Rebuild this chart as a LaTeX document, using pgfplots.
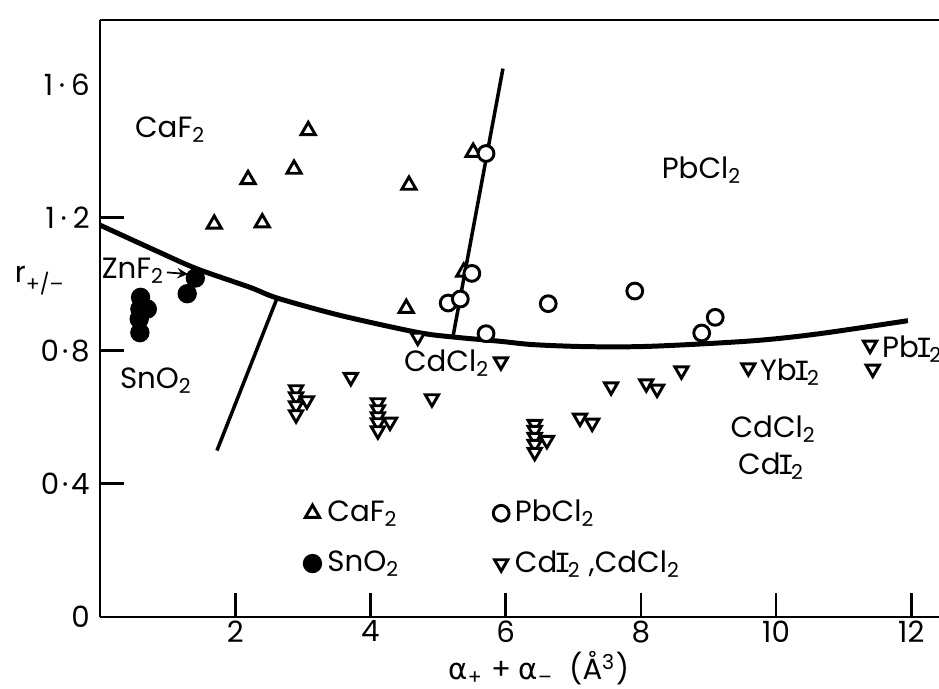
\documentclass[border=0pt]{standalone}
\usepackage{fontspec}
\setmainfont{Poppins}
\newfontfamily\dv{DejaVu Sans}
\newfontfamily\mono{Liberation Mono}
\newcommand{\I}{{\mono\kern-1.2pt I\kern-1.2pt}}
\usepackage{pgfplots}
\pgfplotsset{compat=1.18}

\begin{document}
\begin{tikzpicture}
\begin{axis}[
  scale only axis, width=10.068cm, height=7.164cm,
  xmin=0, xmax=12.41, ymin=0, ymax=1.793,
  axis x line*=bottom, axis y line*=left,
  axis line style={line width=1pt},
  tick align=inside, major tick length=0.29cm,
  tick style={line width=0.9pt, black},
  xtick={2,4,...,12}, xticklabels={2,4,6,8,10,12},
  xticklabel style={inner sep=1pt},
  ytick={0,0.4,0.8,1.2},
  yticklabels={0,0{\kern1pt}·{\kern1pt}4,0{\kern1pt}·{\kern1pt}8,1{\kern2pt}·{\kern2pt}2},
  extra y ticks={1.6}, extra y tick labels={1{\kern2pt}·{\kern2pt}6},
  extra y tick style={major tick length=0pt},
  xlabel={{\dv α}\textsubscript{+} + {\dv α}\textsubscript{–} \ (Å\textsuperscript{3})},
  xlabel style={at={(axis description cs:0.523,0)}, anchor=north, yshift=-0.29cm,
    font=\fontsize{10}{12}\selectfont},
  ylabel={r\textsubscript{+/–}},
  ylabel style={rotate=-90, at={(axis description cs:-0.0715,0.564)}, anchor=center},
  clip=false,
  legend columns=2,
  legend cell align=left,
  legend style={at={(axis cs:3.0,0.37)}, anchor=north west, draw=none, fill=none,
    inner sep=0pt, row sep=0.15cm},
  legend image code/.code={\draw[#1] plot coordinates {(0.1cm,0cm)};},
]
\coordinate (sw) at (rel axis cs:0,0);
\coordinate (ne) at (rel axis cs:1,1);
\draw[line width=1pt] (rel axis cs:0,1) -- (rel axis cs:1,1);

% boundary lines
\addplot[line width=1.7pt, smooth, tension=0.5, forget plot] coordinates {
 (0,1.177)(0.84,1.099)(1.43,1.046)(2.22,0.990)(2.62,0.958)(3.55,0.906)
 (4.69,0.855)(5.22,0.841)(5.92,0.828)(6.41,0.818)(7.2,0.812)(8.14,0.813)
 (9.62,0.829)(10.61,0.850)(11.95,0.890)};
\addplot[line width=1.2pt, forget plot] coordinates {(1.73,0.50)(2.62,0.958)};
\addplot[line width=1.2pt, forget plot] coordinates {(5.22,0.841)(5.96,1.647)};

% CaF2
\addplot[only marks, mark=triangle*, mark size=2.8pt,
  mark options={draw=black, fill=white, line width=1pt}] coordinates {
 (3.08,1.461)(2.87,1.345)(2.19,1.314)(4.57,1.297)(1.69,1.180)(2.40,1.184)
 (5.52,1.396)(5.38,1.036)(4.53,0.927)};
\addlegendentry{\makebox[1.92cm][l]{CaF\textsubscript{2}}}
% PbCl2
\addplot[only marks, mark=*, mark size=2.7pt,
  mark options={draw=black, fill=white, line width=1pt}] coordinates {
 (5.71,1.392)(5.50,1.032)(5.15,0.943)(5.33,0.955)(5.71,0.851)(6.63,0.941)
 (7.91,0.979)(8.90,0.853)(9.10,0.900)};
\addlegendentry{PbCl\textsubscript{2}}
% SnO2
\addplot[only marks, mark=*, mark size=3.1pt, mark options={black}] coordinates {
 (1.41,1.018)(1.29,0.971)(0.60,0.960)(0.59,0.925)(0.70,0.925)(0.58,0.895)(0.59,0.854)};
\addlegendentry{\makebox[1.92cm][l]{SnO\textsubscript{2}}}
% CdI2, CdCl2
\addplot[only marks, mark=triangle*, mark size=2.6pt,
  mark options={draw=black, fill=white, line width=1pt, rotate=180}] coordinates {
 (4.70,0.841)(3.71,0.720)(4.91,0.656)
 (2.90,0.683)(2.90,0.662)(2.90,0.635)(2.90,0.608)(3.06,0.650)
 (4.11,0.644)(4.11,0.623)(4.11,0.602)(4.11,0.584)(4.11,0.560)(4.29,0.586)
 (5.93,0.767)(7.56,0.692)(8.08,0.701)(8.24,0.685)(8.60,0.740)
 (6.43,0.579)(6.43,0.561)(6.43,0.540)(6.43,0.519)(6.43,0.495)(6.61,0.531)
 (7.10,0.598)(7.28,0.583)
 (9.59,0.749)(11.39,0.817)(11.43,0.745)};
\addlegendentry{Cd\I\textsubscript{2} ,CdCl\textsubscript{2}}

% region labels
\node at (axis cs:1.04,1.465) {CaF\textsubscript{2}};
\node at (axis cs:8.9,1.342) {PbCl\textsubscript{2}};
\node at (axis cs:0.49,1.04) {ZnF\textsubscript{2}};
\draw[-stealth, line width=0.6pt] (axis cs:0.99,1.035) -- (axis cs:1.30,1.03);
\node at (axis cs:0.83,0.709) {SnO\textsubscript{2}};
\node at (axis cs:5.13,0.762) {CdCl\textsubscript{2}};
\node[anchor=west, inner sep=0pt] at (axis cs:9.75,0.735) {Yb\I\textsubscript{2}};
\node[anchor=west, inner sep=0pt] at (axis cs:11.56,0.803) {Pb\I\textsubscript{2}};
\node at (axis cs:9.96,0.563) {CdCl\textsubscript{2}};
\node at (axis cs:9.93,0.453) {Cd\I\textsubscript{2}};
\end{axis}
\path (sw) ++(-1.2cm,-0.852cm) coordinate (bbA);
\path (ne) ++(0cm,0.24cm) coordinate (bbB);
\pgfresetboundingbox
\path[use as bounding box] (bbA) rectangle (bbB);
\end{tikzpicture}
\end{document}
